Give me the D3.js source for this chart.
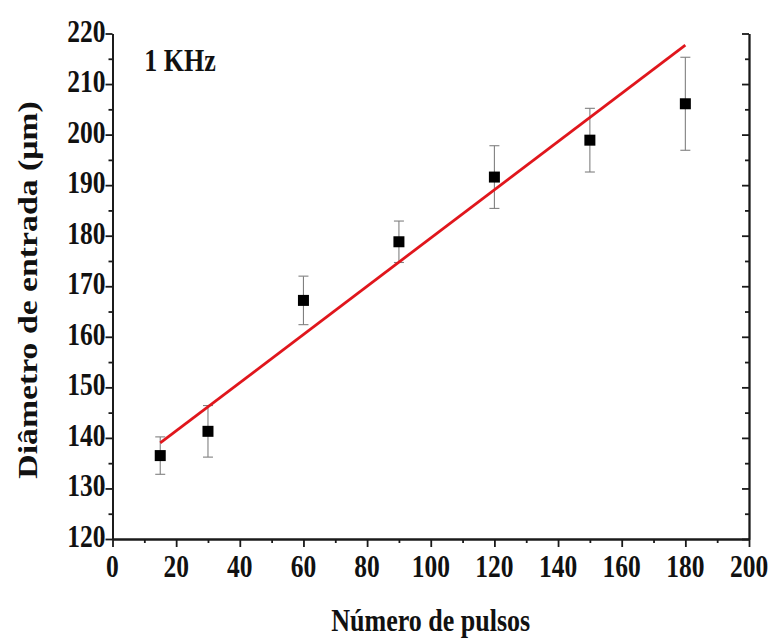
<!DOCTYPE html>
<html>
<head>
<meta charset="utf-8">
<script src="https://cdn.jsdelivr.net/npm/d3@7/dist/d3.min.js"></script>
<style>
  body { margin: 0; background: #fff; }
  text { font-family: "Liberation Serif", "Times New Roman", serif; font-weight: bold; }
</style>
</head>
<body>
<script>
// pulses, measured diameter, and error bar half-width
var pulsos   = [15, 30, 60, 90, 120, 150, 180];
var diametro = [136.5, 141.3, 167.2, 178.8, 191.6, 198.9, 206.1];
var erro     = [3.7, 5.1, 4.8, 4.1, 6.2, 6.3, 9.2];
// fitted line end points
var ajusteX  = [15, 180];
var ajusteY  = [139.0, 217.7];
var xTicks = d3.range(0, 201, 20);
var yTicks = d3.range(120, 221, 10);

(function() {
var W = 769, H = 639;
var mL = 112.5, mR = 749, mT = 33.5, mB = 539;
var k = 1.25; // vertical stretch of the lettering in the original

var svg = d3.select("body").append("svg").attr("width", W).attr("height", H);

var x = d3.scaleLinear().domain([0, 200]).range([mL, mR]);
var y = d3.scaleLinear().domain([120, 220]).range([mB, mT]);

// error bars
var eb = svg.append("g").attr("stroke", "#808080").attr("stroke-width", 1.1);
pulsos.forEach(function(p, i) {
  var cx = x(p), y0 = y(diametro[i] - erro[i]), y1 = y(diametro[i] + erro[i]);
  eb.append("line").attr("x1", cx).attr("x2", cx).attr("y1", y0).attr("y2", y1);
  eb.append("line").attr("x1", cx - 5).attr("x2", cx + 5).attr("y1", y0).attr("y2", y0);
  eb.append("line").attr("x1", cx - 5).attr("x2", cx + 5).attr("y1", y1).attr("y2", y1);
});

// fit line
svg.append("line")
  .attr("x1", x(ajusteX[0])).attr("y1", y(ajusteY[0]))
  .attr("x2", x(ajusteX[1])).attr("y2", y(ajusteY[1]))
  .attr("stroke", "#e0161c").attr("stroke-width", 2.8);

// points
svg.selectAll("rect.pt").data(pulsos).enter().append("rect")
  .attr("class", "pt")
  .attr("x", function(d) { return x(d) - 5.5; })
  .attr("y", function(d, i) { return y(diametro[i]) - 5.5; })
  .attr("width", 11).attr("height", 11)
  .attr("fill", "#000");

// axes
function style(g) {
  g.select(".domain").attr("stroke", "#1a1a1a").attr("stroke-width", 1.8);
  g.selectAll(".tick line").attr("stroke", "#1a1a1a").attr("stroke-width", 1.8);
  g.selectAll("text").remove();
}

// bottom
svg.append("g").attr("transform", "translate(0," + mB + ")")
  .call(d3.axisBottom(x).tickValues(d3.range(10, 200, 20)).tickSize(4).tickSizeOuter(0)).call(style);
svg.append("g").attr("transform", "translate(0," + mB + ")")
  .call(d3.axisBottom(x).tickValues(xTicks).tickSize(8).tickSizeOuter(0)).call(style);
// left
svg.append("g").attr("transform", "translate(" + mL + ",0)")
  .call(d3.axisLeft(y).tickValues(d3.range(125, 220, 10)).tickSize(4).tickSizeOuter(0)).call(style);
svg.append("g").attr("transform", "translate(" + mL + ",0)")
  .call(d3.axisLeft(y).tickValues(yTicks).tickSize(7).tickSizeOuter(0)).call(style);
// right, ticks inward
svg.append("g").attr("transform", "translate(" + mR + ",0)")
  .call(d3.axisLeft(y).tickValues(d3.range(125, 220, 10)).tickSize(4).tickSizeOuter(0)).call(style);
svg.append("g").attr("transform", "translate(" + mR + ",0)")
  .call(d3.axisLeft(y).tickValues(yTicks).tickSize(7).tickSizeOuter(0)).call(style);

// labels
function txt(px, py, s, size, anchor, rot) {
  return svg.append("text")
    .attr("transform", "translate(" + px + "," + py + ") scale(1," + k + ")" + (rot ? " rotate(" + rot + ")" : ""))
    .attr("text-anchor", anchor)
    .attr("font-size", size)
    .attr("fill", "#111")
    .text(s);
}
xTicks.forEach(function(t) { txt(x(t), 577, t, 25.5, "middle"); });
yTicks.forEach(function(t) { txt(mL - 7, y(t) + 8, t, 25.5, "end"); });

txt(x(10), 71, "1 KHz", 26, "start");
txt((mL + mR) / 2, 631, "Número de pulsos", 26, "middle");
txt(37, 290, "Diâmetro de entrada (μm)", 27, "middle", -90);
})();
</script>
</body>
</html>
